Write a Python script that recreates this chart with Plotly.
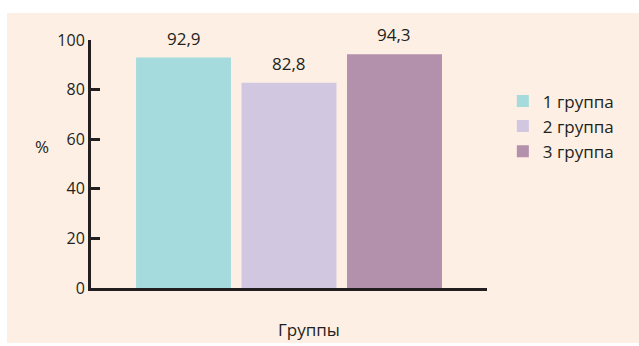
import plotly.graph_objects as go

groups = ["1 группа", "2 группа", "3 группа"]
values = [92.9, 82.8, 94.3]
labels = ["92,9", "82,8", "94,3"]
colors = ["#a5dbdd", "#d2c7e1", "#b390ac"]
y_ticks = [0, 20, 40, 60, 80, 100]
x_title = "Группы"
y_title = "%"

FONT = "Open Sans"
INK = "#231f20"
BG = "#fdefe3"

fig = go.Figure()
for i, (g, v, c) in enumerate(zip(groups, values, colors)):
    fig.add_trace(go.Bar(x=[i], y=[v], name=g, marker=dict(color=c, line=dict(width=0)),
                         width=0.9, hoverinfo="skip"))

for i, (v, t) in enumerate(zip(values, labels)):
    fig.add_annotation(x=i, y=v, text=t, showarrow=False, yanchor="bottom", yshift=6,
                       font=dict(family=FONT, size=17, color=INK))

x_range = [-0.877, 2.877]

fig.update_layout(
    width=639, height=346,
    margin=dict(l=91, r=152, t=40, b=58),
    paper_bgcolor="white", plot_bgcolor="rgba(0,0,0,0)",
    showlegend=True,
    legend=dict(x=1.04, y=0.825, xanchor="left", yanchor="top",
                font=dict(family=FONT, size=17, color=INK),
                bgcolor="rgba(0,0,0,0)", itemclick=False, tracegroupgap=0,
                itemwidth=30),
    xaxis=dict(range=x_range, showgrid=False, zeroline=False, showline=True,
               linecolor=INK, linewidth=3, showticklabels=False,
               tickvals=[x_range[1]], ticks="inside", ticklen=6, tickwidth=3, tickcolor=INK),
    yaxis=dict(range=[0, 100], tickvals=y_ticks, showgrid=False, zeroline=False,
               showline=True, linecolor=INK, linewidth=3, ticks="inside", ticklen=9,
               tickwidth=3, tickcolor=INK,
               tickfont=dict(family=FONT, size=16, color=INK)),
    font=dict(family=FONT, color=INK),
)

# peach background panel
fig.add_shape(type="rect", xref="paper", yref="paper", x0=-0.212, x1=1.4, y0=-0.222, y1=1.109,
              fillcolor=BG, line=dict(width=0), layer="below")

fig.add_annotation(xref="paper", yref="paper", x=-0.124, y=0.57, text=y_title, showarrow=False,
                   xanchor="center", yanchor="middle",
                   font=dict(family=FONT, size=17, color=INK))
fig.add_annotation(xref="paper", yref="paper", x=0.551, y=-0.169, text=x_title, showarrow=False,
                   xanchor="center", yanchor="middle",
                   font=dict(family=FONT, size=17, color=INK))

fig.write_html("out.html")
